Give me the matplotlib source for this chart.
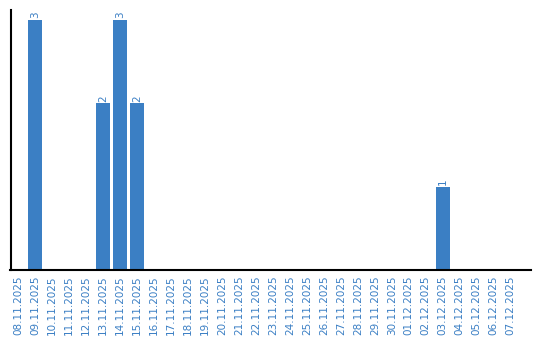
import matplotlib
matplotlib.use("Agg")
from matplotlib import pyplot as plt
from datetime import date, timedelta

# data
start = date(2025, 11, 8)
days = [(start + timedelta(days=i)).strftime("%d.%m.%Y") for i in range(30)]
counts = {"09.11.2025": 3, "13.11.2025": 2, "14.11.2025": 3,
          "15.11.2025": 2, "03.12.2025": 1}
values = [counts.get(d, 0) for d in days]

blue = "#3b7fc4"

fig = plt.figure(figsize=(5.4, 3.4), dpi=100)
ax = fig.add_axes([10.5 / 540, 1 - 270 / 340, 520.5 / 540, 260 / 340])

x = range(len(days))
bars = ax.bar(x, values, width=0.82, color=blue)
for b, v in zip(bars, values):
    if v > 0:
        ax.text(b.get_x() + b.get_width() / 2, v + 0.02, str(v), rotation=90,
                ha="center", va="bottom", color=blue, fontsize=7.5)

ax.set_xlim(-0.45, 30.2)
ax.set_ylim(0, 3.12)
ax.set_xticks(list(x))
ax.set_xticklabels(days, rotation=90, color=blue, fontsize=7.5)
ax.tick_params(axis="x", length=0, pad=4)
ax.set_yticks([])
ax.spines["top"].set_visible(False)
ax.spines["right"].set_visible(False)
ax.spines["left"].set_linewidth(1.5)
ax.spines["bottom"].set_linewidth(1.5)

fig.savefig("out.png", dpi=100)
